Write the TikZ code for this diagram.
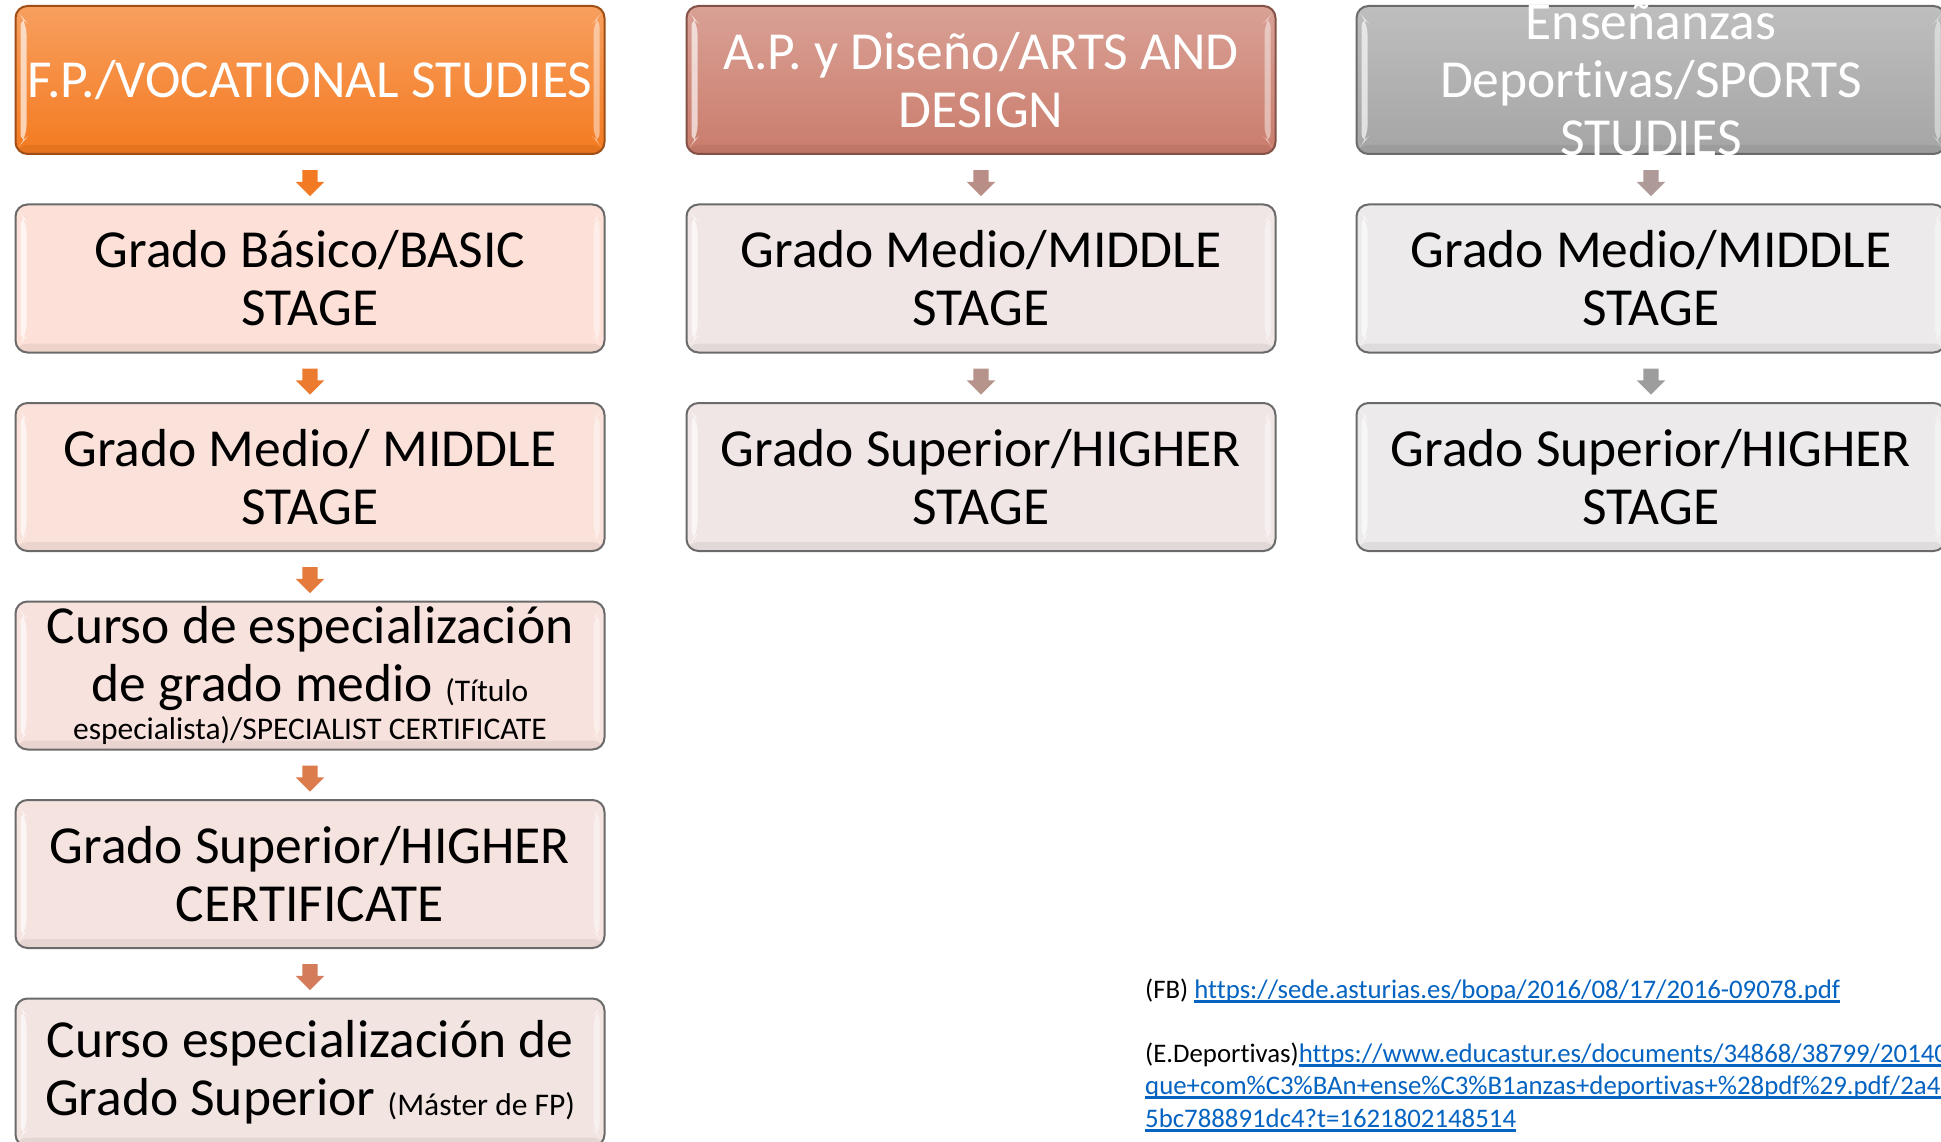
\documentclass[tikz,border=0pt]{standalone}
\usepackage{fontspec}
\setmainfont[RawFeature=-liga]{Carlito}
\usetikzlibrary{positioning,shapes.arrows,calc}
\definecolor{fporange}{HTML}{F47A20}
\definecolor{aprose}{HTML}{CA7C6C}
\definecolor{edgray}{HTML}{A5A5A5}
\definecolor{fplight}{HTML}{FDE1D8}
\definecolor{fpdim}{HTML}{F2E4E1}
\definecolor{aplight}{HTML}{F0E6E5}
\definecolor{edlight}{HTML}{ECEAEA}
\definecolor{myedge}{HTML}{6A6A6A}
\definecolor{linkblue}{HTML}{0563C1}
\newcommand\mylink[1]{{\color{linkblue}\setbox0\hbox{#1}\rlap{\rule[-4.5pt]{\wd0}{2.2pt}}\box0}}
\newcommand\mysmall{\fontsize{31.5}{35}\selectfont}
\tikzset{
  mybevel/.style = {path picture={
    \fill[white,opacity=0.65] ($(path picture bounding box.north west)+(5pt,-9pt)$) -- ++(6pt,-7pt)
      -- ($(path picture bounding box.south west)+(11pt,16pt)$) -- ++(-6pt,-7pt) -- cycle;
    \fill[white,opacity=0.45] ($(path picture bounding box.north east)+(-5pt,-9pt)$) -- ++(-6pt,-7pt)
      -- ($(path picture bounding box.south east)+(-11pt,16pt)$) -- ++(6pt,-7pt) -- cycle;
    \fill[black,opacity=0.06] ($(path picture bounding box.south west)+(0pt,9pt)$) rectangle (path picture bounding box.south east);
  }},
  mybox/.style = {rectangle, rounded corners=12pt, draw=myedge, line width=2pt, minimum width=589pt, minimum height=148pt, inner sep=0pt, mybevel},
  myhead/.style = {mybox, draw=#1!65!black, top color=#1!72!white, bottom color=#1},
  mytext/.style = {align=center, inner sep=0pt, font=\fontsize{53.5}{58}\selectfont},
  mydown/.style = {single arrow, rotate=-90, fill=#1, draw=none, inner sep=7.5pt, minimum height=26pt, single arrow head extend=6.5pt, single arrow tip angle=90},
  mynote/.style = {anchor=base west, inner sep=0pt, font=\fontsize{26.8}{32}\selectfont},
}
\begin{document}
\begin{tikzpicture}[x=1pt,y=-1pt]
\def\xa{310}
\def\xb{981}
\def\xc{1651}
\useasboundingbox (0,0) rectangle (1941,1142);
\fill[white] (0,0) rectangle (1941,1142);
% F.P. column
\node[myhead=fporange] (fph) at (\xa,80) {};
\node[mybox, fill=fplight] (fp2) at (\xa,278.5) {};
\node[mybox, fill=fplight!75!fpdim] (fp3) at (\xa,477) {};
\node[mybox, fill=fplight!50!fpdim] (fp4) at (\xa,675.5) {};
\node[mybox, fill=fplight!25!fpdim] (fp5) at (\xa,874) {};
\node[mybox, fill=fpdim] (fp6) at (\xa,1072.5) {};
\node[mytext, text=white] (fpht) at (fph.center) {F.P./VOCATIONAL STUDIES};
\node[mytext] (fp2t) at (fp2.center) {Grado Básico/BASIC\\STAGE};
\node[mytext] (fp3t) at (fp3.center) {Grado Medio/ MIDDLE\\STAGE};
\node[mytext] (fp4t) at (fp4.center) {Curso de especialización\\de grado medio {\mysmall (Título}\\[-20pt]{\mysmall especialista)/SPECIALIST CERTIFICATE}};
\node[mytext] (fp5t) at (fp5.center) {Grado Superior/HIGHER\\CERTIFICATE};
\node[mytext] (fp6t) at (fp6.center) {Curso especialización de\\Grado Superior {\mysmall (Máster de FP)}};
\node[mydown=fporange!95!aprose] (fpa1) at ($(fph.south)!0.5!(fp2.north)$) {};
\node[mydown=fporange!80!aprose] (fpa2) at ($(fp2.south)!0.5!(fp3.north)$) {};
\node[mydown=fporange!62!aprose] (fpa3) at ($(fp3.south)!0.5!(fp4.north)$) {};
\node[mydown=fporange!42!aprose] (fpa4) at ($(fp4.south)!0.5!(fp5.north)$) {};
\node[mydown=fporange!25!aprose] (fpa5) at ($(fp5.south)!0.5!(fp6.north)$) {};
% A.P. column
\node[myhead=aprose] (aph) at (\xb,80) {};
\node[mybox, fill=aplight] (ap2) at (\xb,278.5) {};
\node[mybox, fill=aplight] (ap3) at (\xb,477) {};
\node[mytext, text=white] (apht) at (aph.center) {A.P. y Diseño/ARTS AND\\DESIGN};
\node[mytext] (ap2t) at (ap2.center) {Grado Medio/MIDDLE\\STAGE};
\node[mytext] (ap3t) at (ap3.center) {Grado Superior/HIGHER\\STAGE};
\node[mydown=aprose!55!edgray] (apa1) at ($(aph.south)!0.5!(ap2.north)$) {};
\node[mydown=aprose!45!edgray] (apa2) at ($(ap2.south)!0.5!(ap3.north)$) {};
% E.D. column
\node[myhead=edgray] (edh) at (\xc,80) {};
\node[mybox, fill=edlight] (ed2) at (\xc,278.5) {};
\node[mybox, fill=edlight] (ed3) at (\xc,477) {};
\node[mytext, text=white] (edht) at (edh.center) {Enseñanzas\\Deportivas/SPORTS\\STUDIES};
\node[mytext] (ed2t) at (ed2.center) {Grado Medio/MIDDLE\\STAGE};
\node[mytext] (ed3t) at (ed3.center) {Grado Superior/HIGHER\\STAGE};
\node[mydown=aprose!25!edgray] (eda1) at ($(edh.south)!0.5!(ed2.north)$) {};
\node[mydown=edgray!95!black] (eda2) at ($(ed2.south)!0.5!(ed3.north)$) {};
% sources
\node[mynote] (nfb) at (1145,998) {(FB) \mylink{https://sede.asturias.es/bopa/2016/08/17/2016-09078.pdf}};
\node[mynote] (ned1) at (1145,1062) {(E.Deportivas)\mylink{https://www.educastur.es/documents/34868/38799/20140}};
\node[mynote] (ned2) at (1145,1094) {\mylink{que+com\%C3\%BAn+ense\%C3\%B1anzas+deportivas+\%28pdf\%29.pdf/2a4c}};
\node[mynote] (ned3) at (1145,1127) {\mylink{5bc788891dc4?t=1621802148514}};
\end{tikzpicture}
\end{document}
